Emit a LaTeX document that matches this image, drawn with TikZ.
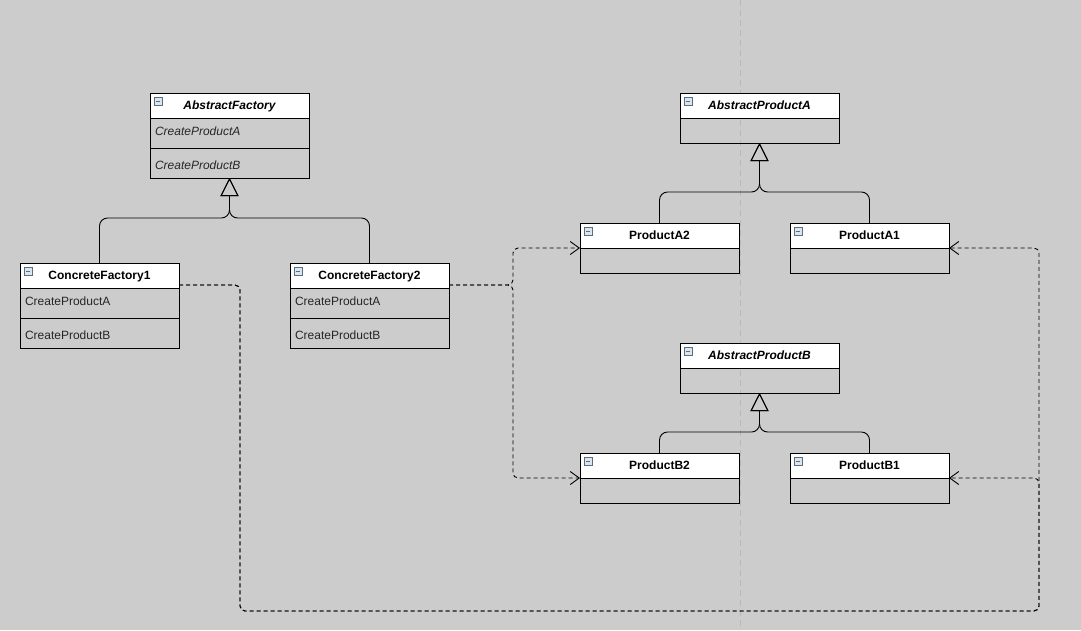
\documentclass[tikz,border=0pt]{standalone}
\usepackage{fontspec}
\setmainfont{Liberation Sans}
\usetikzlibrary{arrows.meta}
\definecolor{bg}{HTML}{CCCCCC}
\definecolor{guide}{HTML}{B8B8B8}
\definecolor{iconfill}{HTML}{DCE4EC}
\definecolor{iconline}{HTML}{5A6C80}
\definecolor{rowtext}{HTML}{262626}
\tikzset{
  hdr/.style={draw=black, fill=white, line width=0.9pt, minimum width=159pt, minimum height=25pt,
    anchor=north west, inner sep=0pt, outer sep=0pt, text height=8.6pt, text depth=0pt,
    font=\fontsize{12}{14}\selectfont\bfseries},
  hdrit/.style={hdr, font=\fontsize{12}{14}\selectfont\bfseries\itshape},
  rowbox/.style={draw=black, line width=0.9pt, minimum width=159pt, minimum height=30pt,
    anchor=north west, inner xsep=5pt, inner ysep=0pt, outer sep=0pt, text width=149pt, align=left,
    text=rowtext, font=\fontsize{12}{14}\selectfont},
  rowone/.style={text height=8.6pt, text depth=4pt},
  rowtwo/.style={text height=12.6pt, text depth=0pt},
  rowit/.style={rowbox, font=\fontsize{12}{14}\selectfont\itshape},
  emptyrow/.style={draw=black, line width=0.9pt, minimum width=159pt, minimum height=25pt,
    anchor=north west, inner sep=0pt, outer sep=0pt},
  gen/.style={draw=black, line width=0.9pt, rounded corners=8pt,
    -{Triangle[open, length=18pt, width=18pt, line width=0.9pt]}},
  dep/.style={draw=black, line width=0.9pt, rounded corners=5pt, dash pattern=on 4pt off 3pt,
    -{Straight Barb[length=9pt, width=13pt, line width=0.9pt]}},
  icon/.style={draw=iconline, fill=iconfill, line width=0.5pt, minimum size=8pt, inner sep=0pt}
}
\newcommand{\mkicon}[1]{%
  \node[icon] (#1i) at ([xshift=8pt,yshift=-8pt]#1.north west) {};
  \draw[iconline, line width=0.7pt] ([xshift=-2.2pt]#1i.center) -- ([xshift=2.2pt]#1i.center);}
\begin{document}
\begin{tikzpicture}[x=1pt, y=-1pt]
\fill[bg] (0,0) rectangle (1081,630);
\useasboundingbox (0,0) rectangle (1081,630);
\draw[guide, line width=0.6pt, dash pattern=on 6pt off 4pt] (740,0) -- (740,630);

% AbstractFactory
\node[hdrit] (afh) at (150,93) {AbstractFactory};
\node[rowit, rowone] (afa) at (afh.south west) {CreateProductA};
\node[rowit, rowtwo] (afb) at (afa.south west) {CreateProductB};
\mkicon{afh}

% ConcreteFactory1
\node[hdr] (cf1h) at (20,263) {ConcreteFactory1};
\node[rowbox, rowone] (cf1a) at (cf1h.south west) {CreateProductA};
\node[rowbox, rowtwo] (cf1b) at (cf1a.south west) {CreateProductB};
\mkicon{cf1h}

% ConcreteFactory2
\node[hdr] (cf2h) at (290,263) {ConcreteFactory2};
\node[rowbox, rowone] (cf2a) at (cf2h.south west) {CreateProductA};
\node[rowbox, rowtwo] (cf2b) at (cf2a.south west) {CreateProductB};
\mkicon{cf2h}

% AbstractProductA
\node[hdrit] (aph) at (680,93) {AbstractProductA};
\node[emptyrow] (apb) at (aph.south west) {};
\mkicon{aph}

% ProductA2, ProductA1
\node[hdr] (pa2h) at (580,223) {ProductA2};
\node[emptyrow] (pa2b) at (pa2h.south west) {};
\mkicon{pa2h}
\node[hdr] (pa1h) at (790,223) {ProductA1};
\node[emptyrow] (pa1b) at (pa1h.south west) {};
\mkicon{pa1h}

% AbstractProductB
\node[hdrit] (bph) at (680,343) {AbstractProductB};
\node[emptyrow] (bpb) at (bph.south west) {};
\mkicon{bph}

% ProductB2, ProductB1
\node[hdr] (pb2h) at (580,453) {ProductB2};
\node[emptyrow] (pb2b) at (pb2h.south west) {};
\mkicon{pb2h}
\node[hdr] (pb1h) at (790,453) {ProductB1};
\node[emptyrow] (pb1b) at (pb1h.south west) {};
\mkicon{pb1h}

% junction coordinates
\coordinate (jf) at (229.5,218);
\coordinate (ja) at (759.5,192);
\coordinate (jb) at (759.5,432);

% generalisations
\draw[gen] (cf1h.north) |- (jf) -- (afb.south);
\draw[gen] (cf2h.north) |- (jf) -- (afb.south);
\draw[gen] (pa2h.north) |- (ja) -- (apb.south);
\draw[gen] (pa1h.north) |- (ja) -- (apb.south);
\draw[gen] (pb2h.north) |- (jb) -- (bpb.south);
\draw[gen] (pb1h.north) |- (jb) -- (bpb.south);

% dependencies from ConcreteFactory1
\coordinate (d1a) at (240,285);
\coordinate (d1b) at (240,611);
\coordinate (d1c) at (1039,611);
\coordinate (d1d) at (1039,478);
\coordinate (d1e) at (1039,248);
\draw[dep] ([yshift=3pt]cf1h.south east) -- (d1a) -- (d1b) -- (d1c) -- (d1e) -- (pa1h.south east);
\draw[dep] ([yshift=3pt]cf1h.south east) -- (d1a) -- (d1b) -- (d1c) -- (d1d) -- (pb1h.south east);

% dependencies from ConcreteFactory2
\coordinate (d2a) at (513,285);
\coordinate (d2b) at (513,248);
\coordinate (d2c) at (513,478);
\draw[dep] ([yshift=3pt]cf2h.south east) -- (d2a) -- (d2b) -- (pa2h.south west);
\draw[dep] ([yshift=3pt]cf2h.south east) -- (d2a) -- (d2c) -- (pb2h.south west);
\end{tikzpicture}
\end{document}
